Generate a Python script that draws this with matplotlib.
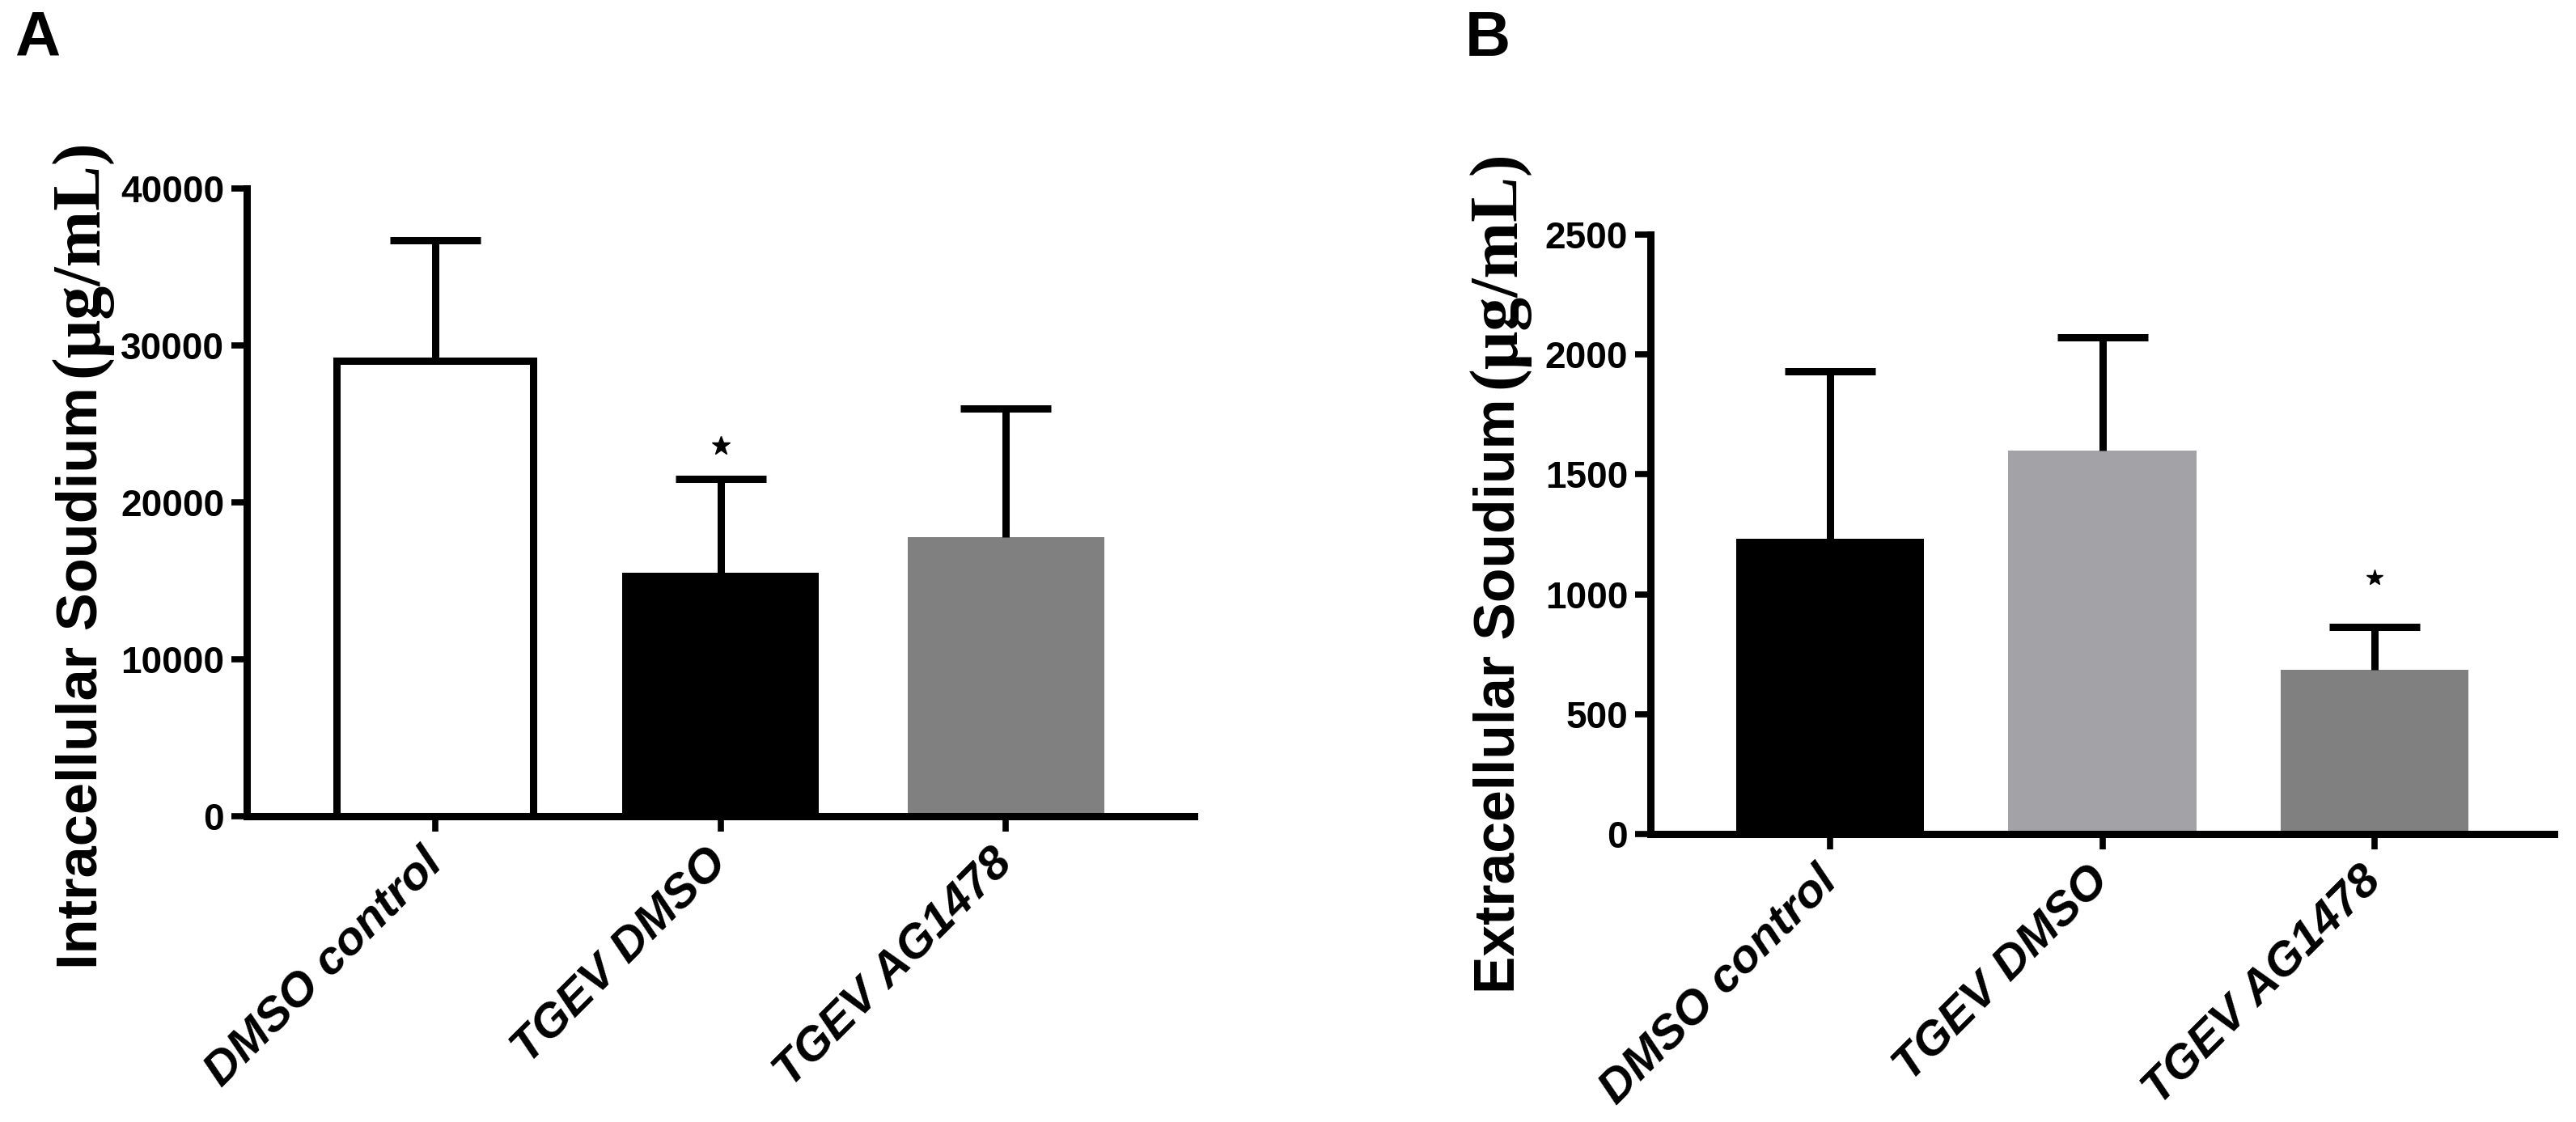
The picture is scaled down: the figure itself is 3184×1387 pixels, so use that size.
import matplotlib
matplotlib.use('Agg')
import matplotlib.pyplot as plt
import matplotlib.transforms as mtransforms
from matplotlib import font_manager
import numpy as np

# ---------------- data ----------------
categories = ['DMSO control', 'TGEV DMSO', 'TGEV AG1478']

intra_values = [29000, 15500, 17800]
intra_errors = [7700, 6000, 8200]
intra_sig = [False, True, False]
intra_ticks = [0, 10000, 20000, 30000, 40000]

extra_values = [1230, 1600, 685]
extra_errors = [700, 470, 180]
extra_sig = [False, False, True]
extra_ticks = [0, 500, 1000, 1500, 2000, 2500]

intra_colors = ['white', 'black', '#808080']
extra_colors = ['black', '#A3A2A7', '#808080']

# ---------------- style ----------------
W, H = 3184, 1387
DPI = 100
names = {f.name for f in font_manager.fontManager.ttflist}
SANS = 'Liberation Sans' if 'Liberation Sans' in names else 'DejaVu Sans'
NARROW = 'Liberation Sans Narrow' if 'Liberation Sans Narrow' in names else SANS
SERIF = 'Liberation Serif' if 'Liberation Serif' in names else 'DejaVu Serif'
plt.rcParams['font.family'] = [SANS, 'DejaVu Sans']

LW = 6.5
fig = plt.figure(figsize=(W / DPI, H / DPI), dpi=DPI)
fig.patch.set_facecolor('white')


def px_axes(x0, x1, y_top, y_bottom):
    return fig.add_axes([x0 / W, 1 - y_bottom / H, (x1 - x0) / W, (y_bottom - y_top) / H])


def panel(ax, values, errors, colors, ticks, sig, star_off, star_ms):
    x = np.arange(len(categories))
    edgecolors = ['black' if c == 'white' else c for c in colors]
    lws = [LW if c == 'white' else 0 for c in colors]
    ax.bar(x, values, width=0.69, color=colors, edgecolor=edgecolors, linewidth=lws, zorder=2)
    _, caplines, _ = ax.errorbar(x, values, yerr=[np.zeros(len(values)), errors], fmt='none',
                                 ecolor='black', elinewidth=LW, capsize=40, capthick=LW, zorder=3)
    # keep only the upper caps
    for cl in caplines:
        yd = np.asarray(cl.get_ydata(), dtype=float)
        if np.allclose(yd, np.asarray(values, dtype=float)):
            cl.set_visible(False)
    for i, s in enumerate(sig):
        if s:
            ax.plot([x[i]], [values[i] + errors[i] + star_off], marker='*', ms=star_ms,
                    color='black', zorder=4)
    ax.set_xlim(-0.66, 2.66)
    ax.set_ylim(ticks[0], ticks[-1])
    ax.set_yticks(ticks)
    ax.set_yticklabels([str(t) for t in ticks], fontsize=33, fontweight='bold', family=[SANS])
    ax.set_xticks(x)
    ax.set_xticklabels(categories, rotation=45, ha='right', va='center', rotation_mode='anchor',
                       fontsize=42, fontweight='bold', fontstyle='italic', family=[SANS])
    shift = mtransforms.ScaledTranslation(8 / DPI, 0, fig.dpi_scale_trans)
    for lab in ax.get_xticklabels():
        lab.set_transform(lab.get_transform() + shift)
    for sp in ['top', 'right']:
        ax.spines[sp].set_visible(False)
    for sp in ['left', 'bottom']:
        ax.spines[sp].set_linewidth(LW)
        ax.spines[sp].set_zorder(5)
    ax.tick_params(axis='y', width=5.5, length=14, pad=6)
    ax.tick_params(axis='x', width=5.5, length=14, pad=22)


axA = px_axes(305, 1476, 233, 1009)
panel(axA, intra_values, intra_errors, intra_colors, intra_ticks, intra_sig, 2100, 17)

axB = px_axes(2040, 3157, 290, 1031)
panel(axB, extra_values, extra_errors, extra_colors, extra_ticks, extra_sig, 205, 15)

# panel letters
fig.text(18 / W, 1 - 12 / H, 'A', fontsize=56, fontweight='bold', ha='left', va='top', family=[SANS])
fig.text(1811 / W, 1 - 12 / H, 'B', fontsize=56, fontweight='bold', ha='left', va='top', family=[SANS])

# two-part y labels
renderer = fig.canvas.get_renderer()


def two_part_label(x_base, y_bottom, sans_str, serif_str, sans_len, serif_len, gap=12):
    t1 = fig.text(x_base / W, 1 - y_bottom / H, sans_str, rotation=90, rotation_mode='anchor',
                  ha='left', va='baseline', fontsize=50, fontweight='bold', family=[NARROW])
    bb = t1.get_window_extent(renderer)
    t1.set_fontsize(50 * sans_len / bb.height)
    bb = t1.get_window_extent(renderer)
    y2 = bb.y1 + gap
    t2 = fig.text(x_base / W, y2 / H, serif_str, rotation=90, rotation_mode='anchor',
                  ha='left', va='baseline', fontsize=50, fontweight='bold', family=[SERIF])
    bb2 = t2.get_window_extent(renderer)
    t2.set_fontsize(50 * serif_len / bb2.height)


two_part_label(120, 1198, 'Intracellular Soudium', '(\u03bcg/mL)', 721, 294)
two_part_label(1872, 1228, 'Extracellular Soudium', '(\u03bcg/mL)', 735, 294)

fig.savefig('out.png', dpi=DPI, facecolor='white')
